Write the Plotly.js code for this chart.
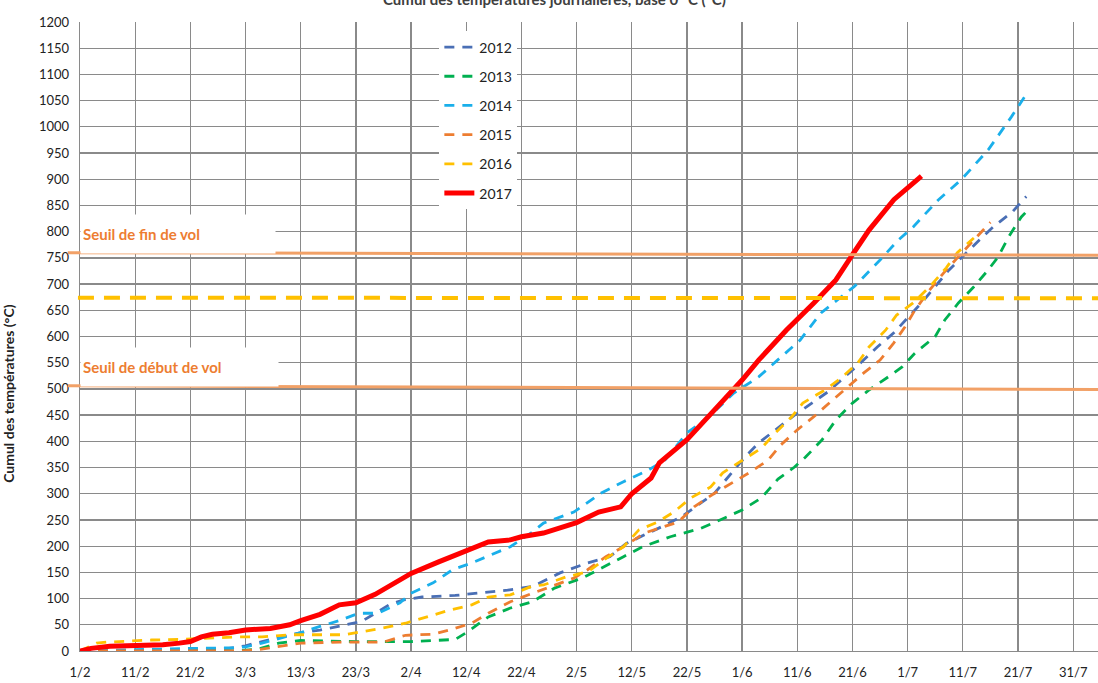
<!DOCTYPE html>
<html>
<head>
<meta charset="utf-8">
<script src="https://cdn.plot.ly/plotly-3.0.1.min.js"></script>
<style>html,body{margin:0;padding:0;background:#fff;}#chart{width:1098px;height:683px;}</style>
</head>
<body>
<div id="chart"></div>
<script>
// Days counted from 1 February
const tickDays = [0,10,20,30,40,50,60,70,80,90,100,110,120,130,140,150,160,170,180];
const tickLabels = ["1/2","11/2","21/2","3/3","13/3","23/3","2/4","12/4","22/4","2/5","12/5","22/5","1/6","11/6","21/6","1/7","11/7","21/7","31/7"];

const d2012 = [0,20,27,30,33,36,40,43.5,47,51,56,58.5,62,68,77.5,82,87,92,96,99,106,109,115,120.5,123,126.5,129.5,135.5,141.5,144.5,147.5,152.5,157.5,163,165.5,169,171.5];
const v2012 = [0,2,5,10,18,25,35,40,47,56,88,97,103,106,116,123,149,168,180,205,240,256,301,370,397,425,450,494,550,580,607,664,727,784,809,838,867];

const d2013 = [0,28,32,36,40,50,60,68,70,74,78,82,86,91,98.5,102,107,112.5,116,120,123.5,126.5,129.5,131.5,134.5,137,140,143,146.5,149,151.3,155,156.7,159.2,162,164.6,166.4,168.3,170.6,171.5];
const v2013 = [0,0,3,15,20,18,18,22,35,65,82,94,120,139,180,199,218,234,250,269,292,328,351,370,403,441,473,498,523,542,568,600,631,664,695,727,752,790,828,838];

const d2014 = [0,10,20,28,30,33,40,43.5,47,50.5,54,58,60,64,67.5,71,76,78,82,84,89.5,94.4,98.5,103,106,110,114,118.5,123,126.5,130.5,134.3,140.3,145,148.3,151,155.5,159.7,164.6,168.8,171.5];
const v2014 = [0,3,5,6,8,15,35,47,58,72,72,92,110,130,155,168,190,199,227,244,265,301,323,345,364,416,447,492,523,555,593,645,695,746,784,809,860,899,956,1019,1062];

const d2015 = [0,29,32,36,40,47,55,59,64,67,71,74,78,82,89.5,92,95.3,98.5,102.3,108.4,111.3,115,118,121.6,124.7,127,130,133,136,139,142,145,147.5,149.5,151.3,154,156.5,159,162,165];
const v2015 = [0,0,2,8,15,17,17,30,32,40,53,72,94,110,139,155,180,199,225,246,275,301,320,342,364,393,422,447,475,502,530,555,588,618,650,689,721,750,784,818];

const d2016 = [0,3,5,9,13,18,24,29,33,38,48,51.5,55,59,64,67,71,74,78,82,84,88,92,95,98.5,101.3,104.7,107.6,110.7,114.3,116.5,120,123.5,126,129,131,135,138,141,143,146,148,151,154,157,159,162];
const v2016 = [0,15,17,19,21,22,25,27,27,31,31,37,44,53,69,78,88,103,107,124,126,141,151,174,199,231,246,265,292,313,340,364,387,416,447,473,498,521,550,580,612,641,664,695,731,760,788];

const d2017 = [0,2,5.4,10,15,18,20,22,24,27,30,34.5,38,40,43.5,47,50,53.5,57,60,65,70,74,78,80,84,90,94,98,100,103.5,105,110,115,120,123,128,133,137,140,143,147.5,152.5];
const v2017 = [0,5,9,10,12,15,18,27,32,35,40,43,50,58,70,88,92,108,130,148,170,192,208,212,218,225,245,265,275,300,330,359,403,460,517,555,612,664,708,756,803,861,906];

const seriesNames = ["2012","2013","2014","2015","2016","2017"];
const seriesColors = ["#4A6FB5","#00B050","#1AAFEA","#ED7D31","#FFC000","#FF0000"];

const seuilFin = [760, 755];      // Seuil de fin de vol (left, right)
const seuilDebut = [506, 499];    // Seuil de début de vol (left, right)
const seuilMoyen = [674, 673];    // dashed yellow reference

const days = [d2012,d2013,d2014,d2015,d2016,d2017];
const vals = [v2012,v2013,v2014,v2015,v2016,v2017];

const traces = seriesNames.map((n,i)=>({
  x: days[i], y: vals[i], name: n, type:'scatter', mode:'lines',
  legendgroup: n,
  line: i===5 ? {color: seriesColors[i], width: 5} : {color: seriesColors[i], width: 2.8, dash: '10px,8px'}
}));

const font = 'Lato, "Open Sans", sans-serif';

const layout = {
  width:1098, height:683,
  margin:{l:80, r:0, t:22, b:32, pad:0},
  paper_bgcolor:'#fff', plot_bgcolor:'#fff',
  title:{text:'Cumul des températures journalières, base 0 °C (°C)', x:0.505, xanchor:'center', y:1.0, yanchor:'middle', font:{family:font, size:15, color:'#404040', weight:'bold'}},
  font:{family:font, size:13, color:'#222'},
  xaxis:{range:[0,184.5], tickvals:tickDays, ticktext:tickLabels, showgrid:true, gridcolor:'#8a8a8a', gridwidth:1.3,
         zeroline:false, showline:true, linecolor:'#8a8a8a', linewidth:1.3, ticks:'', ticklabelstandoff:9,
         tickfont:{family:font, size:13, color:'#222'}, fixedrange:true},
  yaxis:{range:[0,1200], dtick:50, tick0:0, showgrid:true, gridcolor:'#8a8a8a', gridwidth:1.3,
         zeroline:false, showline:true, linecolor:'#8a8a8a', linewidth:1.3, ticks:'', ticklabelstandoff:7,
         tickfont:{family:font, size:13, color:'#222'}, fixedrange:true},
  showlegend:true,
  legend:{x:0.353, y:0.985, xanchor:'left', yanchor:'top', bgcolor:'#fff', borderwidth:0,
          font:{family:font, size:14, color:'#222'}, itemwidth:30, tracegroupgap:8, traceorder:'grouped'},
  shapes:[
    {type:'line', xref:'paper', yref:'y', x0:-0.012, x1:1, y0:seuilFin[0], y1:seuilFin[1], line:{color:'#F2A167', width:3}, layer:'above'},
    {type:'line', xref:'paper', yref:'y', x0:-0.012, x1:1, y0:seuilDebut[0], y1:seuilDebut[1], line:{color:'#F2A167', width:3}, layer:'above'},
    {type:'line', xref:'paper', yref:'y', x0:-0.002, x1:1, y0:seuilMoyen[0], y1:seuilMoyen[1], line:{color:'#FFC000', width:4, dash:'16px,10px'}, layer:'above'}
  ],
  annotations:[
    {text:'Seuil de fin de vol', xref:'paper', yref:'y', x:0, y:796, xanchor:'left', yanchor:'middle', showarrow:false,
     width:190, height:34, align:'left', bgcolor:'#fff', borderpad:2, font:{family:font, size:15, color:'#ED7D31', weight:'bold'}},
    {text:'Seuil de début de vol', xref:'paper', yref:'y', x:0, y:541, xanchor:'left', yanchor:'middle', showarrow:false,
     width:193, height:34, align:'left', bgcolor:'#fff', borderpad:2, font:{family:font, size:15, color:'#ED7D31', weight:'bold'}},
    {text:'Cumul des températures (°C)', xref:'paper', yref:'paper', x:-0.071, y:0.41, xanchor:'center', yanchor:'middle', textangle:-90, showarrow:false,
     font:{family:font, size:14, color:'#222', weight:'bold'}}
  ]
};

Plotly.newPlot('chart', traces, layout, {displayModeBar:false, staticPlot:true});
</script>
</body>
</html>
